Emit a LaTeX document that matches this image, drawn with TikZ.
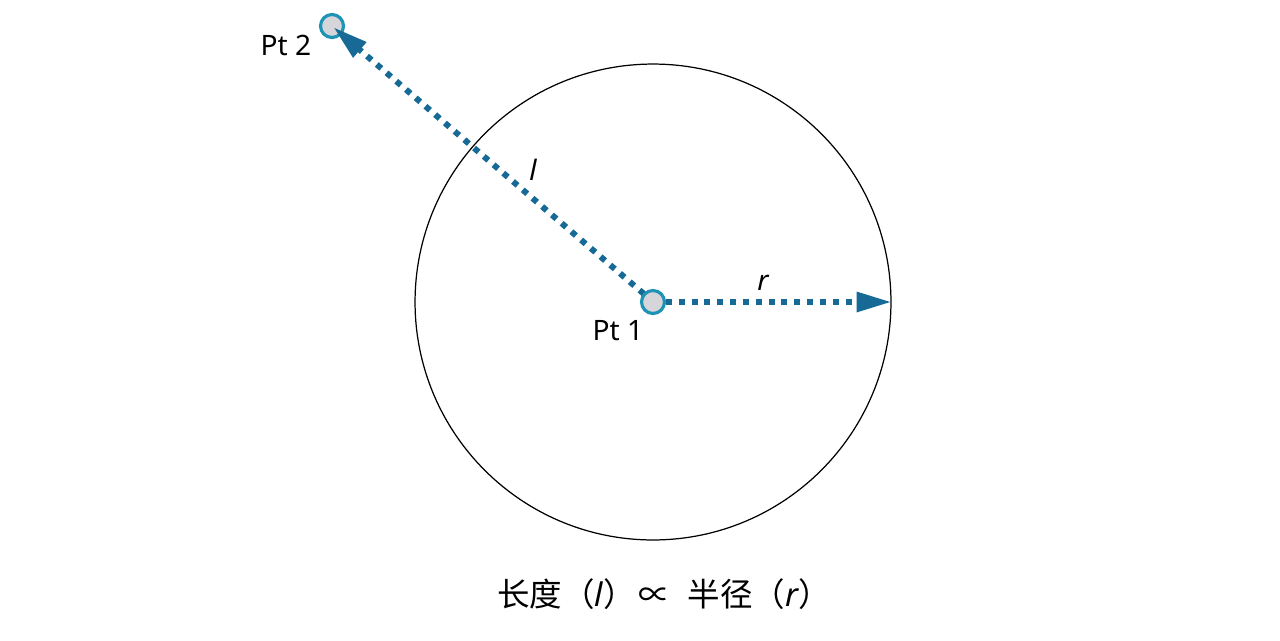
\documentclass[tikz,border=0pt]{standalone}
\usepackage{fontspec}
\setmainfont{Noto Sans}
\newfontfamily\cjk{Noto Sans CJK SC}
\usetikzlibrary{arrows.meta,positioning}
\definecolor{lenblue}{HTML}{176A95}
\definecolor{ptring}{HTML}{1E93B5}
\definecolor{ptfill}{HTML}{D6D6DA}
\tikzset{
  ring/.style={circle,draw,line width=0.7pt,minimum size=9.52cm,inner sep=0pt},
  pt/.style={circle,draw=ptring,fill=ptfill,line width=1.8pt,minimum size=0.46cm,inner sep=0pt},
  len/.style={draw=lenblue,line width=3.4pt,dash pattern=on 3.4pt off 3.9pt,
    -{Triangle[length=0.7cm,width=0.38cm,fill=lenblue]}},
  lbl/.style={font=\fontsize{16}{18}\selectfont,inner sep=0pt}
}
\begin{document}
\begin{tikzpicture}[x=0.02cm,y=-0.02cm]
\useasboundingbox (0,0) rectangle (1280,640);
\node[ring] (bound) at (653,302) {};
\coordinate (rend) at (bound.east);
\node[pt] (p2) at (332,26) {};
\path (p2) ++ (-46,19) node[lbl] (t2) {Pt 2};

\draw[len] (bound.center) ++ (13,0) -- (rend);
\draw[len, shorten >=1pt] (bound.center) ++ (-9,-8) -- (p2.center);
\node[pt] (p1) at (bound.center) {};
\path (p1) ++ (-35,29) node[lbl] (t1) {Pt 1};
\path (p1) ++ (110,-19) node[lbl] (tr) {\itshape r};
\path (p1) ++ (-120,-132) node[lbl] (tl) {\itshape l};

\node[lbl, font=\fontsize{18.5}{22}\selectfont] (cap) at (664,594)
  {\cjk 长度（\normalfont\itshape l\cjk）\hspace{0.1em}∝\hspace{0.5em}半径（\normalfont\itshape r\cjk）};
\end{tikzpicture}
\end{document}
